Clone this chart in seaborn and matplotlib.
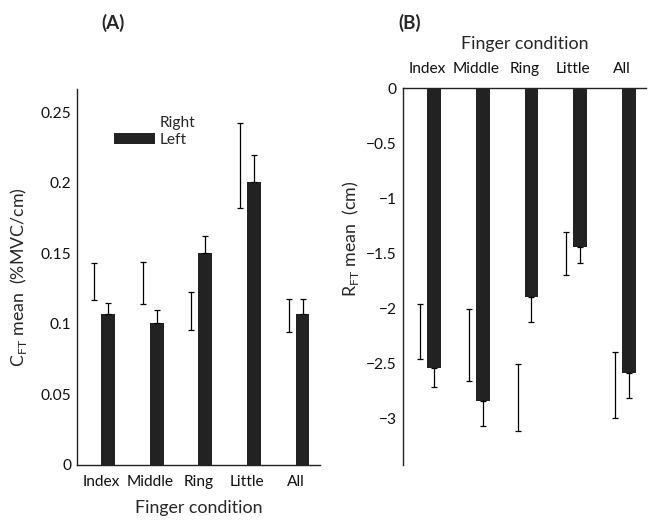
import numpy as np
import pandas as pd
import matplotlib
matplotlib.use("Agg")
import matplotlib.pyplot as plt
import seaborn as sns
from matplotlib.patches import Patch

fingers = ["Index", "Middle", "Ring", "Little", "All"]
hands = ["Right", "Left"]

# Panel A: C_FT mean (%MVC/cm)
cft_right = [0.130, 0.129, 0.109, 0.212, 0.106]
cft_right_err = [0.0134, 0.0147, 0.0133, 0.0303, 0.0118]
cft_left = [0.1066, 0.1009, 0.1504, 0.2003, 0.1068]
cft_left_err = [0.0082, 0.0087, 0.0120, 0.0194, 0.0104]

# Panel B: R_FT mean (cm)
rft_right = [-2.209, -2.328, -2.806, -1.503, -2.698]
rft_right_err = [0.247, 0.328, 0.305, 0.195, 0.300]
rft_left = [-2.538, -2.841, -1.898, -1.444, -2.589]
rft_left_err = [0.178, 0.221, 0.225, 0.145, 0.225]

sns.set_theme(style="white")
plt.rcParams['font.family'] = ['Lato', 'DejaVu Sans']

BAR = "#222222"
palette = {"Right": "white", "Left": BAR}
TICK = 11.2
LAB = 12.8

fig = plt.figure(figsize=(6.61, 5.23), dpi=100)
axA = fig.add_axes([0.116, 0.111, 0.368, 0.718])
axB = fig.add_axes([0.609, 0.111, 0.369, 0.720])


def make_df(r, l):
    return pd.DataFrame({
        "finger": fingers * 2,
        "hand": ["Right"] * 5 + ["Left"] * 5,
        "value": list(r) + list(l),
    })


def draw(ax, r, rerr, l, lerr, down):
    df = make_df(r, l)
    sns.barplot(data=df, x="finger", y="value", hue="hand", order=fingers,
                hue_order=hands, palette=palette, width=0.57, saturation=1,
                errorbar=None, legend=False, ax=ax, linewidth=0)
    bars = [p for p in ax.patches if p.get_width() > 0][:10]
    right_bars = bars[:5]
    left_bars = bars[5:]
    for p, v, e in zip(right_bars, r, rerr):
        x = p.get_x() + p.get_width() / 2
        ax.errorbar([x], [v], yerr=[e], fmt="none", ecolor="black",
                    elinewidth=0.9, capsize=2.2, capthick=0.9, zorder=5)
    for p, v, e in zip(left_bars, l, lerr):
        x = p.get_x() + p.get_width() / 2
        yerr = [[e], [0]] if down else [[0], [e]]
        ax.errorbar([x], [v], yerr=yerr, fmt="none", ecolor="black",
                    elinewidth=0.9, capsize=2.2, capthick=0.9, zorder=5)
    ax.set_xlim(-0.5, 4.5)
    ax.tick_params(length=0, labelsize=TICK, colors="#111111")
    for s in ax.spines.values():
        s.set_color("#222222")
        s.set_linewidth(1.0)


# Panel A
draw(axA, cft_right, cft_right_err, cft_left, cft_left_err, down=False)
axA.set_ylim(0, 0.266)
axA.set_yticks([0, 0.05, 0.1, 0.15, 0.2, 0.25])
axA.set_yticklabels(["0", "0.05", "0.1", "0.15", "0.2", "0.25"])
axA.tick_params(axis="x", pad=7)
axA.tick_params(axis="y", pad=4)
sns.despine(ax=axA)
axA.set_xlabel("Finger condition", fontsize=LAB, labelpad=8)
axA.set_ylabel(r"C$_{\mathregular{FT}}$ mean  (%MVC/cm)", fontsize=LAB, labelpad=8)
handles = [Patch(facecolor="white", edgecolor="none"), Patch(facecolor=BAR, edgecolor="none")]
axA.legend(handles, hands, loc="upper left", bbox_to_anchor=(0.097, 0.968),
           frameon=False, fontsize=TICK, handlelength=2.6, handleheight=0.75,
           labelspacing=0.2, handletextpad=0.3)

# Panel B
draw(axB, rft_right, rft_right_err, rft_left, rft_left_err, down=True)
axB.set_ylim(-3.42, 0)
axB.set_yticks([0, -0.5, -1, -1.5, -2, -2.5, -3])
axB.set_yticklabels(["0", "\u22120.5", "\u22121", "\u22121.5", "\u22122", "\u22122.5", "\u22123"])
axB.xaxis.tick_top()
axB.xaxis.set_label_position("top")
axB.tick_params(axis="x", pad=9)
axB.tick_params(axis="y", pad=4)
axB.spines["right"].set_visible(False)
axB.spines["bottom"].set_visible(False)
axB.set_xlabel("Finger condition", fontsize=LAB, labelpad=9)
axB.set_ylabel(r"R$_{\mathregular{FT}}$ mean  (cm)", fontsize=LAB)
axB.yaxis.set_label_coords(-0.17, 0.6)

fig.text(0.171, 0.957, "(A)", fontsize=13.5, fontweight="bold", ha="center", va="center")
fig.text(0.620, 0.957, "(B)", fontsize=13.5, fontweight="bold", ha="center", va="center")

fig.savefig("out.png", dpi=100)
